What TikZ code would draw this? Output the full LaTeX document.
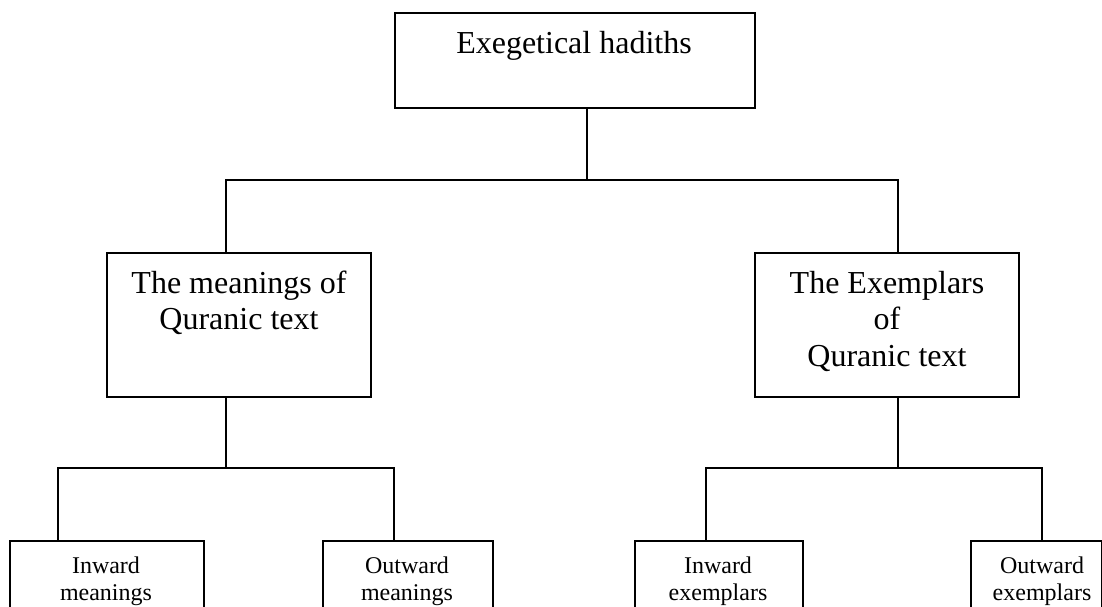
\documentclass[tikz,border=0pt]{standalone}
\usepackage{fontspec}
\setmainfont{Liberation Serif}
\begin{document}
\begin{tikzpicture}[x=1pt,y=-1pt,
  box/.style={draw=black, line width=2pt, rectangle, inner sep=0pt, anchor=north west},
  conn/.style={draw=black, line width=1.7pt},
  bigtext/.style={font=\fontsize{32}{36.8}\selectfont, align=center, anchor=base, inner sep=0pt},
  smalltext/.style={font=\fontsize{24}{27.6}\selectfont, align=center, anchor=base, inner sep=0pt}]
\useasboundingbox (0,0) rectangle (1102,606);
\clip (0,0) rectangle (1102,606);
\fill[white] (0,0) rectangle (1102,606);

% boxes
\node[box, minimum width=360pt, minimum height=95pt] (top) at (394,12) {};
\node[box, minimum width=264pt, minimum height=144pt] (lm) at (106,252) {};
\node[box, minimum width=264pt, minimum height=144pt] (rm) at (754,252) {};
\node[box, minimum width=194pt, minimum height=120pt] (im) at (9,540) {};
\node[box, minimum width=170pt, minimum height=120pt] (om) at (322,540) {};
\node[box, minimum width=168pt, minimum height=120pt] (ie) at (634,540) {};
\node[box, minimum width=131pt, minimum height=120pt] (oe) at (970,540) {};

% texts (anchor=base is the baseline of the last line)
\node[bigtext] (ttop) at (574,53) {Exegetical hadiths};
\node[bigtext] (tlm) at (239,329.8) {The meanings of\\Quranic text};
\node[bigtext] (trm) at (887,366.6) {The Exemplars\\of\\Quranic text};
\node[smalltext] (tim) at (106,600.6) {Inward\\meanings};
\node[smalltext] (tom) at (407,600.6) {Outward\\meanings};
\node[smalltext] (tie) at (718,600.6) {Inward\\exemplars};
\node[smalltext] (toe) at (1042,600.6) {Outward\\exemplars};

% junction coordinates
\coordinate (cT) at (587,0);
\coordinate (cL) at (226,0);
\coordinate (cR) at (898,0);
\coordinate (cLL) at (58,0);
\coordinate (cLR) at (394,0);
\coordinate (cRL) at (706,0);
\coordinate (cRR) at (1042,0);
\coordinate (bus1) at (0,180);
\coordinate (bus2) at (0,468);

% connectors
\draw[conn] (top.south -| cT) -- (cT |- bus1);
\draw[conn] (lm.north -| cL) |- (cT |- bus1) -| (rm.north -| cR);
\draw[conn] (lm.south -| cL) -- (cL |- bus2);
\draw[conn] (im.north -| cLL) |- (cL |- bus2) -| (om.north -| cLR);
\draw[conn] (rm.south -| cR) -- (cR |- bus2);
\draw[conn] (ie.north -| cRL) |- (cR |- bus2) -| (oe.north -| cRR);
\end{tikzpicture}
\end{document}
